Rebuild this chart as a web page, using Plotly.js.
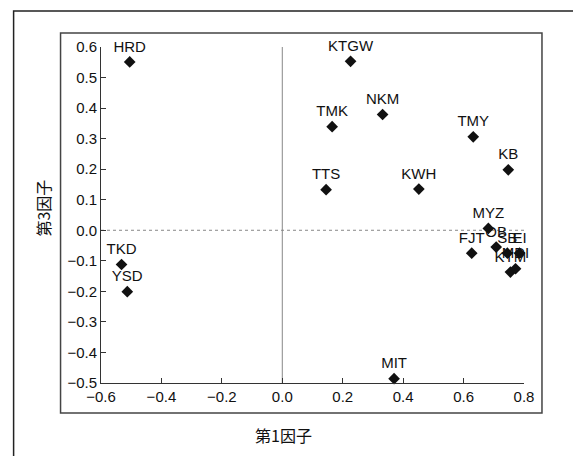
<!DOCTYPE html>
<html>
<head>
<meta charset="utf-8">
<script src="https://cdn.plot.ly/plotly-3.0.1.min.js"></script>
<style>html,body{margin:0;padding:0;background:#fff;}#chart{width:573px;height:456px;}</style>
</head>
<body>
<div id="chart"></div>
<script>
// Data (factor loadings)
const labels  = ["HRD","KTGW","NKM","TMK","TMY","KB","TTS","KWH","MIT","TKD","YSD","MYZ","FJT","OB","SB","EI","KTM","MDI"];
const factor1 = [-0.505, 0.226, 0.332, 0.165, 0.632, 0.748, 0.145, 0.452, 0.370, -0.532, -0.513, 0.682, 0.627, 0.708, 0.745, 0.785, 0.755, 0.772];
const factor3 = [0.551, 0.553, 0.379, 0.339, 0.306, 0.198, 0.133, 0.135, -0.486, -0.112, -0.201, 0.006, -0.075, -0.055, -0.075, -0.075, -0.137, -0.126];
const xTicks = [-0.6,-0.4,-0.2,0.0,0.2,0.4,0.6,0.8];
const yTicks = [-0.5,-0.4,-0.3,-0.2,-0.1,0.0,0.1,0.2,0.3,0.4,0.5,0.6];
const xTitle = "第1因子";
const yTitle = "第3因子";

const fmt = v => (v < 0 ? "\u2212" : "") + Math.abs(v).toFixed(1);

const L = 100.5, R = 524, T = 47, B = 383, W = 573, H = 456;
const pw = R - L, ph = B - T;
const px = x => (x - L) / pw;
const py = y => (B - y) / ph;

const trace = {
  type: "scatter",
  mode: "markers+text",
  x: factor1,
  y: factor3,
  text: labels,
  textposition: "top center",
  textfont: {family: "Liberation Sans, Arial, sans-serif", size: 15, color: "#111"},
  marker: {symbol: "diamond", size: 9, color: "#111"},
  cliponaxis: false,
  hoverinfo: "none"
};

const layout = {
  width: W, height: H,
  margin: {l: L, r: W - R, t: T, b: H - B, pad: 0},
  paper_bgcolor: "#fff", plot_bgcolor: "#fff",
  showlegend: false,
  font: {family: "Liberation Sans, Arial, sans-serif", size: 15, color: "#111"},
  xaxis: {
    range: [-0.6, 0.8], tickvals: xTicks, ticktext: xTicks.map(fmt),
    showgrid: false, zeroline: false, showline: true, linecolor: "#333", linewidth: 1,
    ticks: "inside", ticklen: 5, tickcolor: "#333", tickwidth: 1,
    tickfont: {size: 15, color: "#111"}
  },
  yaxis: {
    range: [-0.5, 0.6], tickvals: yTicks, ticktext: yTicks.map(fmt),
    showgrid: false, zeroline: false, showline: true, linecolor: "#333", linewidth: 1,
    ticks: "inside", ticklen: 5, tickcolor: "#333", tickwidth: 1,
    tickfont: {size: 15, color: "#111"}
  },
  shapes: [
    // zero reference lines
    {type: "line", xref: "x", yref: "y", x0: 0, x1: 0, y0: -0.5, y1: 0.6, line: {color: "#888", width: 1}, layer: "below"},
    {type: "line", xref: "x", yref: "y", x0: -0.6, x1: 0.8, y0: 0, y1: 0, line: {color: "#888", width: 1, dash: "dot"}, layer: "below"},
    // inner frame
    {type: "rect", xref: "paper", yref: "paper", x0: px(60), x1: px(542), y0: py(413), y1: py(33), line: {color: "#444", width: 1.5}},
    // outer frame
    {type: "rect", xref: "paper", yref: "paper", x0: px(13), x1: px(580), y0: py(462), y1: py(11), line: {color: "#222", width: 1.5}}
  ],
  annotations: [
    {text: xTitle, xref: "paper", yref: "paper", x: px(283), y: py(435), showarrow: false,
     font: {family: "Noto Sans CJK JP", size: 16, color: "#111"}, xanchor: "center", yanchor: "middle"},
    {text: yTitle, xref: "paper", yref: "paper", x: px(42), y: py(208), showarrow: false, textangle: -90,
     font: {family: "Noto Sans CJK JP", size: 16, color: "#111"}, xanchor: "center", yanchor: "middle"}
  ]
};

Plotly.newPlot("chart", [trace], layout, {displayModeBar: false, staticPlot: true});
</script>
</body>
</html>
